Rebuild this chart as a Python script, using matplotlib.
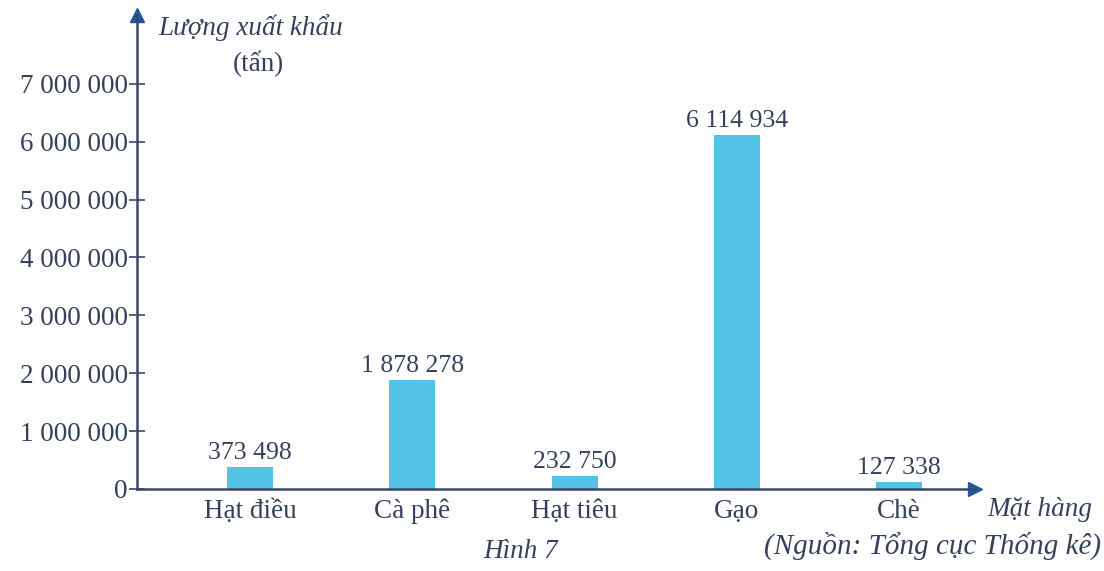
import matplotlib
matplotlib.use("Agg")
import matplotlib.pyplot as plt

categories = ["Hạt điều", "Cà phê", "Hạt tiêu", "Gạo", "Chè"]
values = [373498, 1878278, 232750, 6114934, 127338]
value_labels = ["373 498", "1 878 278", "232 750", "6 114 934", "127 338"]
yticks = [0, 1000000, 2000000, 3000000, 4000000, 5000000, 6000000, 7000000]
ytick_labels = ["0", "1 000 000", "2 000 000", "3 000 000", "4 000 000",
                "5 000 000", "6 000 000", "7 000 000"]

plt.rcParams['font.family'] = ['Liberation Serif', 'DejaVu Serif']

W, H = 1104, 571
fig = plt.figure(figsize=(W / 100, H / 100), dpi=100)
fig.patch.set_facecolor("white")

left, right, bottom, top = 137, 975, 489, 15
ax = fig.add_axes([left / W, (H - bottom) / H, (right - left) / W, (bottom - top) / H])

text_color = "#34405c"
axis_color = "#3b4866"
arrow_color = "#2455a3"
bar_color = "#52c3e6"
fs = 19.5

x = list(range(len(categories)))
ax.bar(x, values, width=0.284, color=bar_color, zorder=2)
ax.set_xlim(-0.698, 4.469)
ax.set_ylim(0, 8.19e6)

for xi, v, lab in zip(x, values, value_labels):
    ax.text(xi, v + 50000, lab, ha="center", va="bottom", fontsize=18.5, color=text_color)

ax.set_yticks(yticks)
ax.set_yticklabels(ytick_labels, fontsize=fs, color=text_color)
ax.set_xticks(x)
ax.set_xticklabels(categories, fontsize=fs, color=text_color)
ax.tick_params(axis="y", direction="inout", length=11, width=1.2, color=axis_color, pad=1)
ax.tick_params(axis="x", length=0, pad=7)

for s in ["top", "right"]:
    ax.spines[s].set_visible(False)
for s in ["left", "bottom"]:
    ax.spines[s].set_color(axis_color)
    ax.spines[s].set_linewidth(1.8)
ax.set_facecolor("none")

# arrow heads
ax.plot([0], [1], marker="^", markersize=10, color=arrow_color, transform=ax.transAxes, clip_on=False)
ax.plot([1], [0], marker=">", markersize=10, color=arrow_color, transform=ax.transAxes, clip_on=False)

fig.text(251 / W, 1 - 28 / H, "Lượng xuất khẩu", ha="center", va="center",
         fontsize=fs, style="italic", color=text_color)
fig.text(258 / W, 1 - 64 / H, "(tấn)", ha="center", va="center",
         fontsize=fs, color=text_color)
fig.text(1040 / W, 1 - 510 / H, "Mặt hàng", ha="center", va="center",
         fontsize=fs, style="italic", color=text_color)
fig.text(521 / W, 1 - 552 / H, "Hình 7", ha="center", va="center",
         fontsize=fs, style="italic", color=text_color)
fig.text(1101 / W, 1 - 546 / H, "(Nguồn: Tổng cục Thống kê)", ha="right", va="center",
         fontsize=21, style="italic", color=text_color)

fig.savefig("out.png", dpi=100, facecolor="white")
